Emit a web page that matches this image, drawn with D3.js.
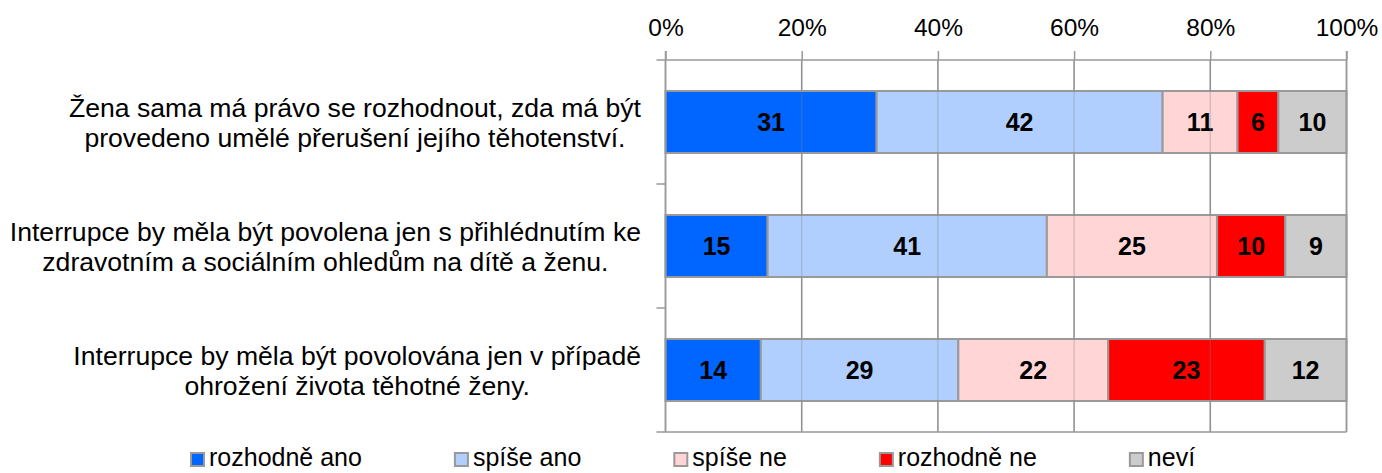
<!DOCTYPE html>
<html>
<head>
<meta charset="utf-8">
<script src="https://cdn.jsdelivr.net/npm/d3@7"></script>
<style>
  body { margin: 0; background: #fff; }
  text { font-family: "Liberation Sans", Arial, sans-serif; }
</style>
</head>
<body>
<div id="chart"></div>
<script>
// Data
const statements = [
  ["Žena sama má právo se rozhodnout, zda má být", "provedeno umělé přerušení jejího těhotenství."],
  ["Interrupce by měla být povolena jen s přihlédnutím ke", "zdravotním a sociálním ohledům na dítě a ženu."],
  ["Interrupce by měla být povolována jen v případě", "ohrožení života těhotné ženy."]
];
const answers = ["rozhodně ano", "spíše ano", "spíše ne", "rozhodně ne", "neví"];
const rozhodneAno = [31, 15, 14];
const spiseAno = [42, 41, 29];
const spiseNe = [11, 25, 22];
const rozhodneNe = [6, 10, 23];
const nevi = [10, 9, 12];
const tickValues = [0, 20, 40, 60, 80, 100];

const colors = ["#0066ff", "#b0cfff", "#ffd5d5", "#ff0000", "#cccccc"];

const width = 1382, height = 473;
const margin = { top: 60, right: 35.5, bottom: 41, left: 665.5 };

const svg = d3.select("#chart").append("svg")
  .attr("width", width)
  .attr("height", height);

// build rows for the stack
const series = [rozhodneAno, spiseAno, spiseNe, rozhodneNe, nevi];
const rows = statements.map((s, i) => {
  const row = { id: i };
  answers.forEach((a, k) => { row[a] = series[k][i]; });
  return row;
});
const stacked = d3.stack().keys(answers)(rows);

const x = d3.scaleLinear()
  .domain([0, 100])
  .range([margin.left, width - margin.right]);

const y = d3.scaleBand()
  .domain(rows.map(d => d.id))
  .range([margin.top, height - margin.bottom])
  .paddingInner(0.5)
  .paddingOuter(0.25);

const gridColor = "#999";
const y0 = margin.top, y1 = height - margin.bottom;

// Top axis with tick labels
const xAxis = d3.axisTop(x)
  .tickValues(tickValues)
  .tickFormat(d => d + "%")
  .tickSize(9)
  .tickPadding(15);

const axG = svg.append("g")
  .attr("transform", `translate(0,${y0})`)
  .call(xAxis);
axG.select(".domain").remove();
axG.selectAll(".tick line").attr("stroke", gridColor).attr("stroke-width", 1.5);
axG.selectAll(".tick text")
  .attr("fill", "#000")
  .style("font-size", "24.5px")
  .style("font-family", "'Liberation Sans', Arial, sans-serif");

// vertical gridlines (under bars)
svg.append("g").selectAll("line")
  .data(tickValues)
  .join("line")
    .attr("x1", d => x(d)).attr("x2", d => x(d))
    .attr("y1", y0).attr("y2", y1)
    .attr("stroke", gridColor)
    .attr("stroke-width", 1.5);

// Bars
const layers = svg.append("g").selectAll("g")
  .data(stacked)
  .join("g")
    .attr("fill", (d, i) => colors[i]);

layers.selectAll("rect")
  .data(d => d)
  .join("rect")
    .attr("x", d => x(d[0]))
    .attr("y", d => y(d.data.id))
    .attr("width", d => x(d[1]) - x(d[0]))
    .attr("height", y.bandwidth())
    .attr("stroke", "#999")
    .attr("stroke-width", 2);

// faint gridlines showing through the light segments
svg.append("g").selectAll("line")
  .data(tickValues.slice(1, -1))
  .join("line")
    .attr("x1", d => x(d)).attr("x2", d => x(d))
    .attr("y1", y0).attr("y2", y1)
    .attr("stroke", "#808080")
    .attr("stroke-opacity", 0.3)
    .attr("stroke-width", 1.5);

// Value labels
layers.selectAll("text")
  .data(d => d)
  .join("text")
    .attr("x", d => (x(d[0]) + x(d[1])) / 2)
    .attr("y", d => y(d.data.id) + y.bandwidth() / 2)
    .attr("dy", "0.36em")
    .attr("text-anchor", "middle")
    .attr("fill", "#000")
    .style("font-size", "25px")
    .style("font-weight", "bold")
    .text(d => d[1] - d[0]);

// Plot frame + left category axis
const frame = svg.append("g").attr("fill", "none").attr("stroke", gridColor).attr("stroke-width", 1.5);
frame.append("line").attr("x1", margin.left - 9).attr("x2", x(100)).attr("y1", y0).attr("y2", y0);
frame.append("line").attr("x1", margin.left - 9).attr("x2", x(100)).attr("y1", y1).attr("y2", y1);
frame.append("line").attr("x1", x(0)).attr("x2", x(0)).attr("y1", y0 - 9).attr("y2", y1);
frame.append("line").attr("x1", x(100)).attr("x2", x(100)).attr("y1", y0 - 9).attr("y2", y1);
// category separator ticks
const step = y.step();
[1, 2].forEach(k => {
  const yy = y0 + k * step;
  frame.append("line").attr("x1", margin.left - 9).attr("x2", margin.left).attr("y1", yy).attr("y2", yy);
});

// Category labels: centered lines, block right-aligned
const labelRight = 641;
const labels = svg.append("g")
  .selectAll("text")
  .data(rows)
  .join("text")
    .attr("text-anchor", "middle")
    .attr("fill", "#000")
    .style("font-size", "26.6px");

labels.each(function(d) {
  const t = d3.select(this);
  const lines = statements[d.id];
  const cy = y(d.id) + y.bandwidth() / 2;
  lines.forEach((ln, j) => {
    t.append("tspan")
      .attr("y", cy + (j - (lines.length - 1) / 2) * 30)
      .attr("dy", "0.36em")
      .text(ln);
  });
  let w = 0;
  t.selectAll("tspan").each(function() { w = Math.max(w, this.getComputedTextLength()); });
  t.selectAll("tspan").attr("x", labelRight - w / 2);
});

// Legend
const legend = svg.append("g").attr("transform", `translate(190,466)`);
let lx = 0;
answers.forEach((a, i) => {
  const g = legend.append("g").attr("transform", `translate(${lx},0)`);
  g.append("rect")
    .attr("x", 1).attr("y", -13)
    .attr("width", 13).attr("height", 13)
    .attr("fill", colors[i])
    .attr("stroke", "#999")
    .attr("stroke-width", 2);
  const t = g.append("text")
    .attr("x", 19)
    .attr("y", 0)
    .attr("fill", "#000")
    .style("font-size", "25px")
    .text(a);
  lx += 19 + t.node().getComputedTextLength() + 92;
});
</script>
</body>
</html>
